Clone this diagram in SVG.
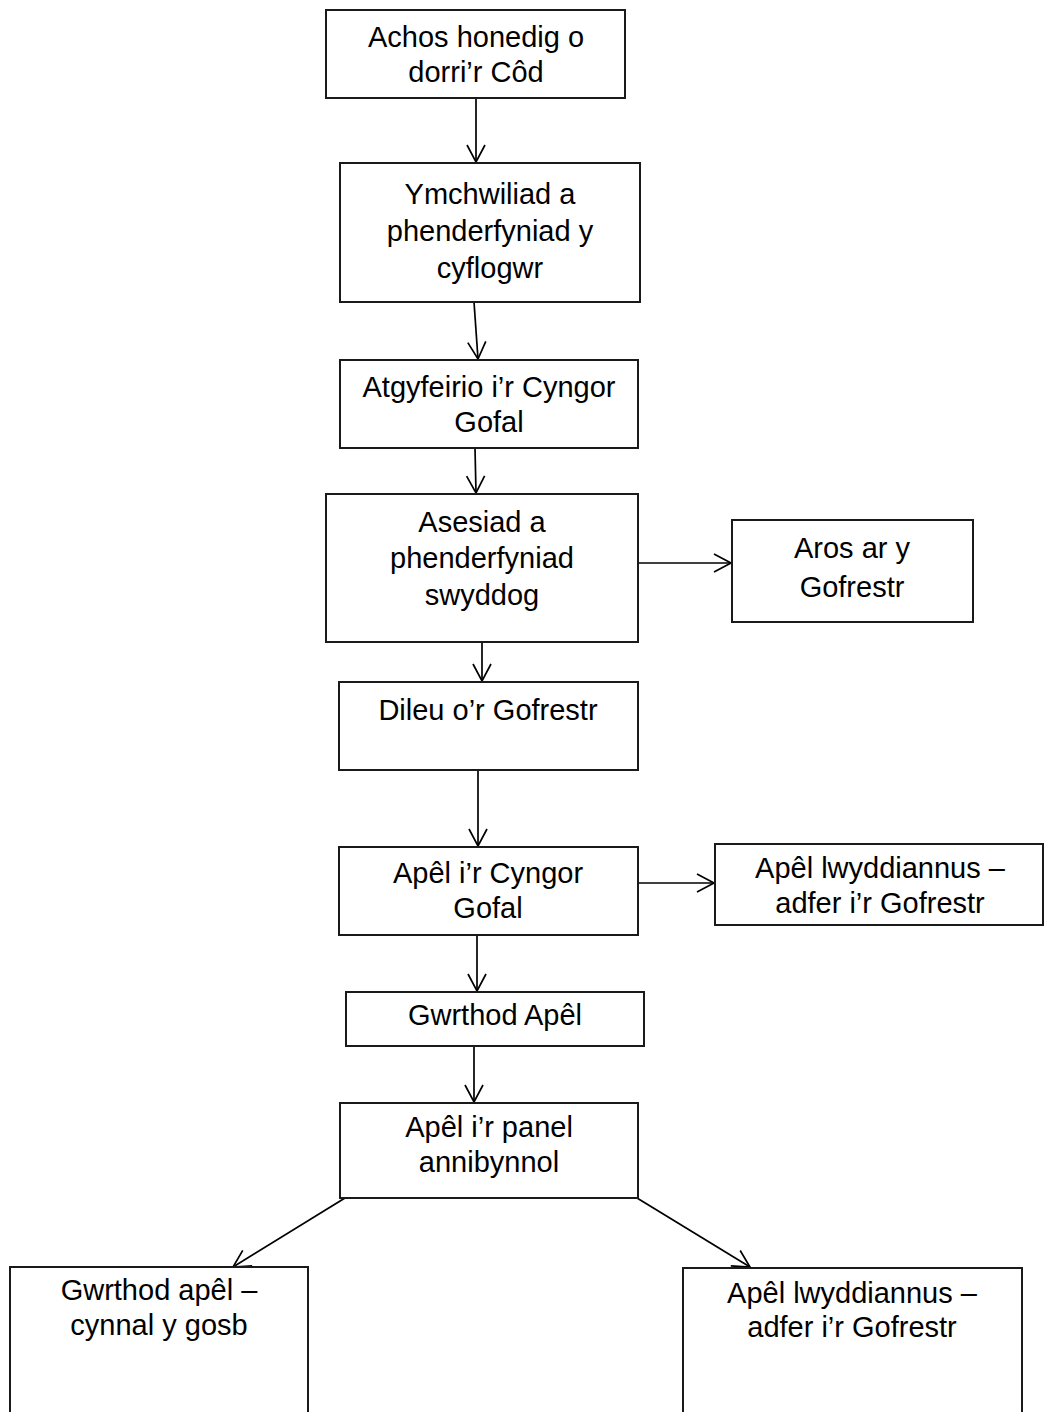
<svg xmlns="http://www.w3.org/2000/svg" width="1045" height="1412" viewBox="0 0 1045 1412">
<style>
.box{fill:#fff;stroke:#1a1a1a;stroke-width:2}
.t{font-family:"Liberation Sans",Arial,sans-serif;font-size:29px;fill:#000;text-anchor:middle}
.c{fill:none;stroke:#000;stroke-width:1.7}
</style>
<defs>
<marker id="ah" markerUnits="userSpaceOnUse" markerWidth="24" markerHeight="24" viewBox="-20 -12 22 24" refX="0" refY="0" orient="auto">
<path d="M-17,-9 L0,0 L-17,9" fill="none" stroke="#000" stroke-width="1.7"/>
</marker>
</defs>
<rect width="1045" height="1412" fill="#fff"/>
<g id="connectors">
<line class="c" x1="476" y1="98" x2="476" y2="162" marker-end="url(#ah)"/>
<line class="c" x1="474" y1="302" x2="478" y2="359" marker-end="url(#ah)"/>
<line class="c" x1="475" y1="448" x2="476" y2="493" marker-end="url(#ah)"/>
<line class="c" x1="638" y1="563" x2="731" y2="563" marker-end="url(#ah)"/>
<line class="c" x1="482" y1="642" x2="482" y2="681" marker-end="url(#ah)"/>
<line class="c" x1="478" y1="770" x2="478" y2="846" marker-end="url(#ah)"/>
<line class="c" x1="638" y1="883" x2="714" y2="883" marker-end="url(#ah)"/>
<line class="c" x1="477" y1="935" x2="477" y2="991" marker-end="url(#ah)"/>
<line class="c" x1="474" y1="1046" x2="474" y2="1102" marker-end="url(#ah)"/>
<line class="c" x1="345" y1="1198" x2="233" y2="1267" marker-end="url(#ah)"/>
<line class="c" x1="637" y1="1198" x2="750" y2="1267" marker-end="url(#ah)"/>
</g>
<g id="n1"><rect class="box" x="326" y="10" width="299" height="88"/>
<text class="t" x="476" y="47">Achos honedig o</text><text class="t" x="476" y="82">dorri’r Côd</text></g>
<g id="n2"><rect class="box" x="340" y="163" width="300" height="139"/>
<text class="t" x="490" y="204">Ymchwiliad a</text><text class="t" x="490" y="241">phenderfyniad y</text><text class="t" x="490" y="278">cyflogwr</text></g>
<g id="n3"><rect class="box" x="340" y="360" width="298" height="88"/>
<text class="t" x="489" y="397">Atgyfeirio i’r Cyngor</text><text class="t" x="489" y="432">Gofal</text></g>
<g id="n4"><rect class="box" x="326" y="494" width="312" height="148"/>
<text class="t" x="482" y="532">Asesiad a</text><text class="t" x="482" y="568">phenderfyniad</text><text class="t" x="482" y="605">swyddog</text></g>
<g id="n5"><rect class="box" x="732" y="520" width="241" height="102"/>
<text class="t" x="852" y="558">Aros ar y</text><text class="t" x="852" y="597">Gofrestr</text></g>
<g id="n6"><rect class="box" x="339" y="682" width="299" height="88"/>
<text class="t" x="488" y="720">Dileu o’r Gofrestr</text></g>
<g id="n7"><rect class="box" x="339" y="847" width="299" height="88"/>
<text class="t" x="488" y="883">Apêl i’r Cyngor</text><text class="t" x="488" y="918">Gofal</text></g>
<g id="n8"><rect class="box" x="715" y="844" width="328" height="81"/>
<text class="t" x="880" y="878">Apêl lwyddiannus –</text><text class="t" x="880" y="913">adfer i’r Gofrestr</text></g>
<g id="n9"><rect class="box" x="346" y="992" width="298" height="54"/>
<text class="t" x="495" y="1025">Gwrthod Apêl</text></g>
<g id="n10"><rect class="box" x="340" y="1103" width="298" height="95"/>
<text class="t" x="489" y="1137">Apêl i’r panel</text><text class="t" x="489" y="1172">annibynnol</text></g>
<g id="n11"><rect class="box" x="10" y="1267" width="298" height="160"/>
<text class="t" x="159" y="1300">Gwrthod apêl –</text><text class="t" x="159" y="1335">cynnal y gosb</text></g>
<g id="n12"><rect class="box" x="683" y="1268" width="339" height="160"/>
<text class="t" x="852" y="1303">Apêl lwyddiannus –</text><text class="t" x="852" y="1337">adfer i’r Gofrestr</text></g>
</svg>
